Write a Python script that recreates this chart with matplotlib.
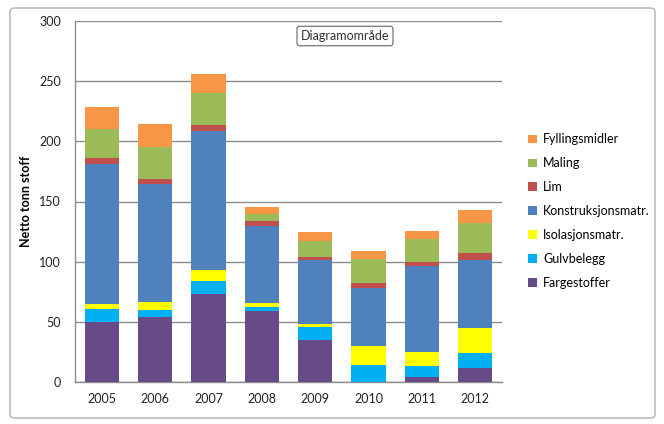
import matplotlib
matplotlib.use("Agg")
import matplotlib.pyplot as plt
from matplotlib.patches import Patch, FancyBboxPatch
import numpy as np

plt.rcParams['font.family'] = ['Lato', 'DejaVu Sans']

years = ['2005', '2006', '2007', '2008', '2009', '2010', '2011', '2012']
series_names = ['Fargestoffer', 'Gulvbelegg', 'Isolasjonsmatr.', 'Konstruksjonsmatr.',
                'Lim', 'Maling', 'Fyllingsmidler']
fargestoffer = [50, 54, 73.5, 59, 34.5, 0, 4.5, 11.5]
gulvbelegg = [11, 5.5, 10.5, 3.5, 11, 14.5, 8.5, 12.5]
isolasjon = [4, 7, 9, 3.5, 3, 15.5, 12, 21]
konstruksjon = [116.5, 98, 116, 64, 52.5, 48.5, 71, 56]
lim = [4.5, 4.5, 4.5, 4, 3, 3.5, 3.5, 6]
maling = [24, 26.5, 27, 5.5, 13.5, 20.5, 19.5, 25]
fylling = [18.5, 18.5, 15.5, 6, 7.5, 6.5, 6.5, 11]
colors = ['#664B88', '#00B0F0', '#FFFF00', '#4F81BD', '#C0504D', '#9BBB59', '#F79646']

data = [fargestoffer, gulvbelegg, isolasjon, konstruksjon, lim, maling, fylling]

W, H = 664, 424
fig = plt.figure(figsize=(W / 100, H / 100), dpi=100)
fig.patch.set_facecolor('white')

# chart area frame
frame = FancyBboxPatch((10 / W, 6 / H), 645 / W, 410 / H,
                       boxstyle="round,pad=0,rounding_size=0.008",
                       transform=fig.transFigure, facecolor='none',
                       edgecolor='#BDBDBD', linewidth=1.2, zorder=0)
fig.patches.append(frame)

ax = fig.add_axes([75 / W, (H - 382) / H, (502 - 75) / W, (382 - 21) / H])
ax.set_facecolor('none')
x = np.arange(len(years))
bottom = np.zeros(len(years))
for vals, name, c in zip(data, series_names, colors):
    ax.bar(x, vals, width=0.64, bottom=bottom, color=c, label=name, zorder=3)
    bottom += np.array(vals)

ax.set_xlim(-0.5, len(years) - 0.5)
ax.set_ylim(0, 300)
ax.set_yticks(np.arange(0, 301, 50))
ax.set_xticks(x)
ax.set_xticklabels(years)
ax.yaxis.grid(True, color='#8C8C8C', linewidth=1.0, zorder=0)
ax.set_axisbelow(True)
for s in ['top', 'right']:
    ax.spines[s].set_visible(False)
for s in ['left', 'bottom']:
    ax.spines[s].set_color('#8C8C8C')
    ax.spines[s].set_linewidth(1.0)
ax.tick_params(axis='both', length=0, labelsize=9, colors='#222222')
ax.tick_params(axis='y', pad=10)
ax.tick_params(axis='x', pad=8)
ax.set_ylabel('Netto tonn stoff', fontsize=9, fontweight='bold', labelpad=5)

handles = [Patch(facecolor=c, label=n) for n, c in zip(series_names, colors)][::-1]
fig.legend(handles=handles, loc='center left', bbox_to_anchor=(522 / W, (H - 211) / H),
           frameon=False, fontsize=9, handlelength=0.7, handleheight=0.7,
           handletextpad=0.5, labelspacing=0.95, borderpad=0)

# tooltip
fig.text(345 / W, (H - 36) / H, 'Diagramområde', ha='center', va='center',
         fontsize=9, color='#333333',
         bbox=dict(boxstyle='round,pad=0.3,rounding_size=0.2', facecolor='white',
                   edgecolor='#666666', linewidth=0.8))

fig.savefig('out.png', dpi=100)
